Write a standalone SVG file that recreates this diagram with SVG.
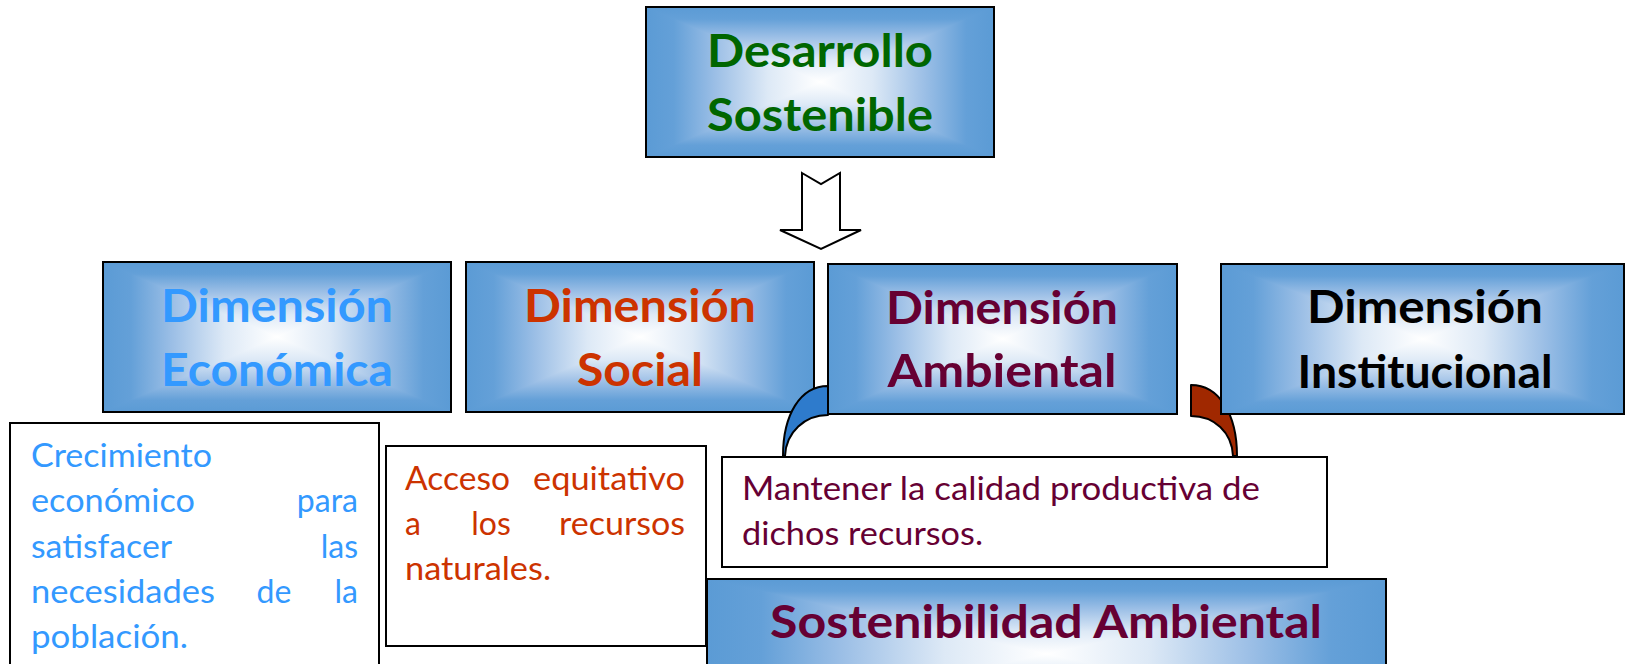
<svg xmlns="http://www.w3.org/2000/svg" width="1627" height="664" viewBox="0 0 1627 664">
<style>
.frame{fill:none;stroke:#000;stroke-width:2}
.tbox{fill:#fff;stroke:#000;stroke-width:2}
.title{font-family:Lato,"Liberation Sans",sans-serif;font-weight:700;font-size:46px;text-anchor:middle}
.body{font-family:Lato,"Liberation Sans",sans-serif;font-weight:400;font-size:32px}
.blend{mix-blend-mode:darken}
.iso{isolation:isolate}
.green{fill:#006600}
.econ{fill:#3399FF}
.soc{fill:#CC3300}
.amb{fill:#660033}
.inst{fill:#000}
.e{text-anchor:end}
.m{text-anchor:middle}
</style>
<defs>
<linearGradient id="gh" x1="0" y1="0" x2="1" y2="0">
<stop offset="0" stop-color="#5B9BD5"/>
<stop offset="0.08" stop-color="#64A0D8"/>
<stop offset="0.2" stop-color="#9CBFE6"/>
<stop offset="0.35" stop-color="#DDE9F6"/>
<stop offset="0.5" stop-color="#FFFFFF"/>
<stop offset="0.65" stop-color="#DDE9F6"/>
<stop offset="0.8" stop-color="#9CBFE6"/>
<stop offset="0.92" stop-color="#64A0D8"/>
<stop offset="1" stop-color="#5B9BD5"/>
</linearGradient>
<linearGradient id="gv" x1="0" y1="0" x2="0" y2="1">
<stop offset="0" stop-color="#5B9BD5"/>
<stop offset="0.08" stop-color="#64A0D8"/>
<stop offset="0.2" stop-color="#9CBFE6"/>
<stop offset="0.35" stop-color="#DDE9F6"/>
<stop offset="0.5" stop-color="#FFFFFF"/>
<stop offset="0.65" stop-color="#DDE9F6"/>
<stop offset="0.8" stop-color="#9CBFE6"/>
<stop offset="0.92" stop-color="#64A0D8"/>
<stop offset="1" stop-color="#5B9BD5"/>
</linearGradient>
</defs>
<rect width="1627" height="664" fill="#fff"/>

<g id="n-desarrollo">
<g class="iso"><rect x="646" y="7" width="348" height="150" fill="url(#gh)"/><rect class="blend" x="646" y="7" width="348" height="150" fill="url(#gv)"/></g>
<rect class="frame" x="646" y="7" width="348" height="150"/>
<text class="title green" x="820" y="67" textLength="226" lengthAdjust="spacingAndGlyphs">Desarrollo</text>
<text class="title green" x="820" y="131" textLength="226" lengthAdjust="spacingAndGlyphs">Sostenible</text>
</g>

<g id="connectors">
<path d="M802,173 L821,184 L840,173 L840,230 L861,230 L821,249 L780,230 L802,230 Z" fill="#fff" stroke="#000" stroke-width="2" stroke-linejoin="miter"/>
</g>

<g id="n-economica">
<g class="iso"><rect x="103" y="262" width="348" height="150" fill="url(#gh)"/><rect class="blend" x="103" y="262" width="348" height="150" fill="url(#gv)"/></g>
<rect class="frame" x="103" y="262" width="348" height="150"/>
<text class="title econ" x="277" y="322" textLength="232" lengthAdjust="spacingAndGlyphs">Dimensión</text>
<text class="title econ" x="277" y="386" textLength="232" lengthAdjust="spacingAndGlyphs">Económica</text>
</g>

<g id="n-social">
<g class="iso"><rect x="466" y="262" width="348" height="150" fill="url(#gh)"/><rect class="blend" x="466" y="262" width="348" height="150" fill="url(#gv)"/></g>
<rect class="frame" x="466" y="262" width="348" height="150"/>
<text class="title soc" x="640" y="322" textLength="232" lengthAdjust="spacingAndGlyphs">Dimensión</text>
<text class="title soc" x="640" y="386" textLength="126" lengthAdjust="spacingAndGlyphs">Social</text>
</g>

<g id="n-blue-arc">
<path d="M783,456 C783,415 800,386 828,386 L828,415 C805,415 786,432 785,456 Z" fill="#2E7BCC" stroke="#000" stroke-width="2" stroke-linejoin="round"/>
</g>

<g id="n-red-arc">
<path d="M1191,385 C1219,385 1237,414 1237,456 L1233,456 C1232,432 1214,416 1191,416 Z" fill="#A02800" stroke="#000" stroke-width="2" stroke-linejoin="round"/>
</g>

<g id="n-ambiental">
<g class="iso"><rect x="828" y="264" width="349" height="150" fill="url(#gh)"/><rect class="blend" x="828" y="264" width="349" height="150" fill="url(#gv)"/></g>
<rect class="frame" x="828" y="264" width="349" height="150"/>
<text class="title amb" x="1002" y="324" textLength="232" lengthAdjust="spacingAndGlyphs">Dimensión</text>
<text class="title amb" x="1002" y="387" textLength="229" lengthAdjust="spacingAndGlyphs">Ambiental</text>
</g>

<g id="n-institucional">
<g class="iso"><rect x="1221" y="264" width="403" height="150" fill="url(#gh)"/><rect class="blend" x="1221" y="264" width="403" height="150" fill="url(#gv)"/></g>
<rect class="frame" x="1221" y="264" width="403" height="150"/>
<text class="title inst" x="1425" y="323" textLength="236" lengthAdjust="spacingAndGlyphs">Dimensión</text>
<text class="title inst" x="1425" y="388" textLength="255" lengthAdjust="spacingAndGlyphs">Institucional</text>
</g>

<g id="n-crecimiento">
<rect class="tbox" x="10" y="423" width="369" height="260"/>
<text class="body econ" x="31" y="467" textLength="181" lengthAdjust="spacingAndGlyphs">Crecimiento</text>
<text class="body econ" x="31" y="512" textLength="164" lengthAdjust="spacingAndGlyphs">económico</text>
<text class="body econ e" x="358" y="512">para</text>
<text class="body econ" x="31" y="558" textLength="141" lengthAdjust="spacingAndGlyphs">satisfacer</text>
<text class="body econ e" x="358" y="558">las</text>
<text class="body econ" x="31" y="603" textLength="184" lengthAdjust="spacingAndGlyphs">necesidades</text>
<text class="body econ m" x="274" y="603">de</text>
<text class="body econ e" x="358" y="603">la</text>
<text class="body econ" x="31" y="648" textLength="157" lengthAdjust="spacingAndGlyphs">población.</text>
</g>

<g id="n-acceso">
<rect class="tbox" x="386" y="446" width="320" height="200"/>
<text class="body soc" x="405" y="490" textLength="105" lengthAdjust="spacingAndGlyphs">Acceso</text>
<text class="body soc" x="533" y="490" textLength="152" lengthAdjust="spacingAndGlyphs">equitativo</text>
<text class="body soc" x="405" y="535">a</text>
<text class="body soc m" x="491" y="535">los</text>
<text class="body soc" x="559" y="535" textLength="126" lengthAdjust="spacingAndGlyphs">recursos</text>
<text class="body soc" x="405" y="580" textLength="146" lengthAdjust="spacingAndGlyphs">naturales.</text>
</g>

<g id="n-mantener">
<rect class="tbox" x="722" y="457" width="605" height="110"/>
<text class="body amb" x="742" y="500" textLength="518" lengthAdjust="spacingAndGlyphs">Mantener la calidad productiva de</text>
<text class="body amb" x="742" y="545" textLength="241" lengthAdjust="spacingAndGlyphs">dichos recursos.</text>
</g>

<g id="n-sostenibilidad">
<g class="iso"><rect x="707" y="579" width="679" height="150" fill="url(#gh)"/><rect class="blend" x="707" y="579" width="679" height="150" fill="url(#gv)"/></g>
<rect class="frame" x="707" y="579" width="679" height="150"/>
<text class="title amb" x="1046" y="638" textLength="552" lengthAdjust="spacingAndGlyphs">Sostenibilidad Ambiental</text>
</g>
</svg>
